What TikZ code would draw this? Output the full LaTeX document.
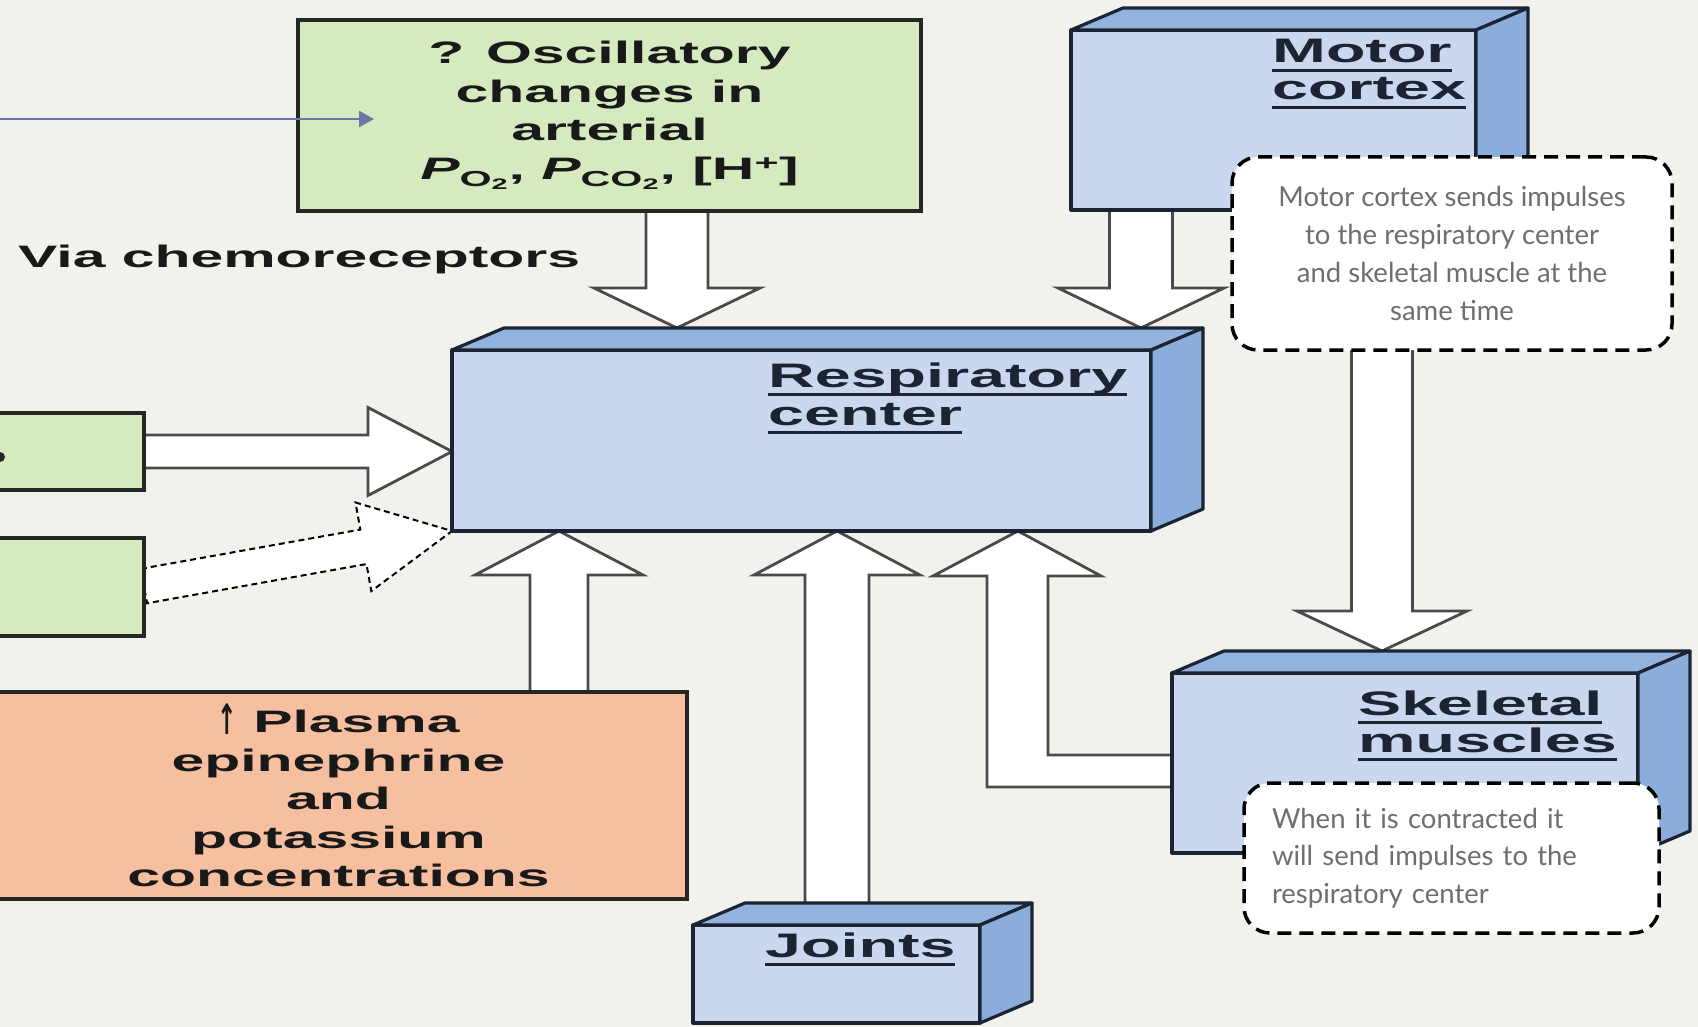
\documentclass[tikz,border=0pt]{standalone}
\usepackage{fontspec}
\usetikzlibrary{calc,arrows.meta}
\newfontfamily\wfont[FakeStretch=1.9]{Liberation Sans}
\newfontfamily\symfont{DejaVu Sans}
\newfontfamily\callfont{Lato}
\definecolor{bgc}{HTML}{F2F2EC}
\definecolor{frontc}{HTML}{CAD8EF}
\definecolor{topc}{HTML}{93B3DF}
\definecolor{sidec}{HTML}{8BADDB}
\definecolor{edgec}{HTML}{1C2433}
\definecolor{greenc}{HTML}{D5EBBF}
\definecolor{salmonc}{HTML}{F5BFA0}
\definecolor{linkc}{HTML}{6A78A8}
\definecolor{callc}{HTML}{6E6E6E}
\definecolor{arredge}{HTML}{4A4A4A}
\pgfdeclarelayer{back}
\pgfdeclarelayer{arrows}
\pgfsetlayers{back,arrows,main}

\newcommand{\uln}[1]{\setbox0\hbox{#1}\rlap{\rule[-9pt]{\wd0}{3.2pt}}\box0}

% #1 extra style, #2 start, #3 tip, #4 shaft half width, #5 head half width, #6 head length
\newcommand{\blockarrow}[6][]{%
  \coordinate (ba-h) at ($(#3)!#6pt!(#2)$);
  \filldraw[blk,#1] ($(#2)!#4pt!90:(#3)$) -- ($(ba-h)!#4pt!90:(#3)$) -- ($(ba-h)!#5pt!90:(#3)$) -- (#3)
     -- ($(ba-h)!#5pt!-90:(#3)$) -- ($(ba-h)!#4pt!-90:(#3)$) -- ($(#2)!#4pt!-90:(#3)$) -- cycle;}

\newcommand{\boxdepth}[1]{%
  \filldraw[face, fill=topc] (#1.north west) -- ++(52,-22) -- ($(#1.north east)+(52,-22)$) -- (#1.north east) -- cycle;
  \filldraw[face, fill=sidec] (#1.north east) -- ++(52,-22) -- ($(#1.south east)+(52,-22)$) -- (#1.south east) -- cycle;}

\tikzset{
  face/.style={draw=edgec, line width=3.2pt, line join=round},
  bluebox/.style={face, fill=frontc, rectangle, inner sep=0pt, outer sep=0pt},
  flatbox/.style={draw=black!85, line width=3.5pt, rectangle, inner sep=0pt, outer sep=0pt, align=center},
  blk/.style={draw=arredge, fill=white, line width=2.8pt, line join=miter},
  dashblk/.style={draw=black, line width=2pt, dash pattern=on 6pt off 4pt},
  ttl/.style={font=\wfont\bfseries\fontsize{34}{37}\selectfont, text=edgec, anchor=base west, inner sep=0pt},
  body/.style={font=\wfont\bfseries\fontsize{31}{38.5}\selectfont, text=black!90},
  callout/.style={draw=black, line width=3.5pt, dash pattern=on 14pt off 8pt, rounded corners=26pt, fill=white,
                  font=\callfont\fontsize{27.5}{37.7}\selectfont, text=callc, inner sep=0pt, outer sep=0pt},
  link/.style={draw=linkc, line width=2.5pt, -{Triangle[length=15pt,width=16pt]}}
}

\begin{document}
\begin{tikzpicture}[x=1pt,y=-1pt]
\useasboundingbox (0,0) rectangle (1698,1027);
\begin{pgfonlayer}{back}
  \fill[bgc] (0,0) rectangle (1698,1027);
\end{pgfonlayer}

% flat boxes
\node[flatbox, fill=greenc, body, minimum width=623pt, minimum height=191pt] (green) at (609.5,115.5)
  {? Oscillatory\\changes in\\arterial\\{\itshape P}\textsubscript{O\textsubscript{2}}, {\itshape P}\textsubscript{CO\textsubscript{2}}, [H\textsuperscript{+}]};
\node[flatbox, fill=greenc, minimum width=154pt, minimum height=77pt] (boxa) at (67,451.5) {};
\node[flatbox, fill=greenc, minimum width=154pt, minimum height=98pt] (boxb) at (67,587) {};
\fill[black!85] (0,457) circle (5pt);
\node[flatbox, fill=salmonc, body, minimum width=697pt, minimum height=207pt] (plasma) at (338.5,795.5)
  {\raisebox{-2pt}{\scalebox{0.75}[1.35]{\symfont\bfseries\char"2191}}\ Plasma\\epinephrine\\and\\potassium\\concentrations};
\node[body, anchor=base west, inner sep=0pt] (via) at (18,268) {Via chemoreceptors};

% 3D blue boxes
\node[bluebox, minimum width=405pt, minimum height=180pt] (motor) at (1273.5,120) {};
\boxdepth{motor}
\node[bluebox, minimum width=699pt, minimum height=181pt] (resp) at (801.5,440.5) {};
\boxdepth{resp}
\node[bluebox, minimum width=466pt, minimum height=180pt] (skel) at (1405,763) {};
\boxdepth{skel}
\node[bluebox, minimum width=287pt, minimum height=98pt] (joints) at (836.5,974) {};
\boxdepth{joints}

\node[ttl] (motor1) at (1272,63) {\uln{Motor}};
\node[ttl] (motor2) at (1272,100) {\uln{cortex}};
\node[ttl] (resp1) at (768,387) {\uln{Respiratory}};
\node[ttl] (resp2) at (768,425) {\uln{center}};
\node[ttl] (skel1) at (1358,715) {\uln{Skeletal}};
\node[ttl] (skel2) at (1358,752) {\uln{muscles}};
\node[ttl] (joints1) at (765,957) {\uln{Joints}};

% reference coordinates
\coordinate (resptop) at ($(resp.north)+(0,-22)$);
\coordinate (skeltop) at ($(skel.north)+(0,-22)$);

% block arrows
\begin{pgfonlayer}{arrows}
  \coordinate (g1) at (677,0 |- green.south);   \coordinate (g2) at (677,0 |- resptop);
  \blockarrow{g1}{g2}{31}{83}{40}
  \coordinate (m1) at (1141,0 |- motor.south);  \coordinate (m2) at (1141,0 |- resptop);
  \blockarrow{m1}{m2}{31.5}{83}{40}
  \coordinate (k1) at (1382,0 |- motor.south);  \coordinate (k2) at (1382,0 |- skeltop);
  \blockarrow{k1}{k2}{30.5}{85}{40}
  \coordinate (p1) at (559,0 |- plasma.north);  \coordinate (p2) at (559,0 |- resp.south);
  \blockarrow{p1}{p2}{29}{84}{44}
  \coordinate (j1) at (837,0 |- joints.north);  \coordinate (j2) at (837,0 |- resp.south);
  \blockarrow{j1}{j2}{32}{83}{44}
  \coordinate (a2) at (resp.west |- boxa.east);
  \blockarrow{boxa.east}{a2}{16.5}{44}{84}
  \coordinate (b1) at (boxb.east |- 0,586);
  \blockarrow[dashblk]{b1}{resp.south west}{17.5}{45}{90}
  \filldraw[blk] (skel.west |- 0,787) -- (987,787) -- (987,576) -- (933,576) -- (1018,0 |- resp.south)
     -- (1101,576) -- (1048,576) -- (1048,755) -- (skel.west |- 0,755) -- cycle;
\end{pgfonlayer}

% thin link arrow
\coordinate (linkstart) at (0,119);
\coordinate (linkend) at (374,119);
\draw[link] (linkstart) -- (linkend);

% callouts
\node[callout, minimum width=440pt, minimum height=193pt, align=center] (call1) at (1452,253.5)
  {Motor cortex sends impulses\\to the respiratory center\\and skeletal muscle at the\\same time};
\node[callout, minimum height=150pt, inner xsep=28pt, text width=359pt, align=left] (call2) at (1451.5,858)
  {When it is contracted it\\will send impulses to the\\respiratory center};
\end{tikzpicture}
\end{document}
